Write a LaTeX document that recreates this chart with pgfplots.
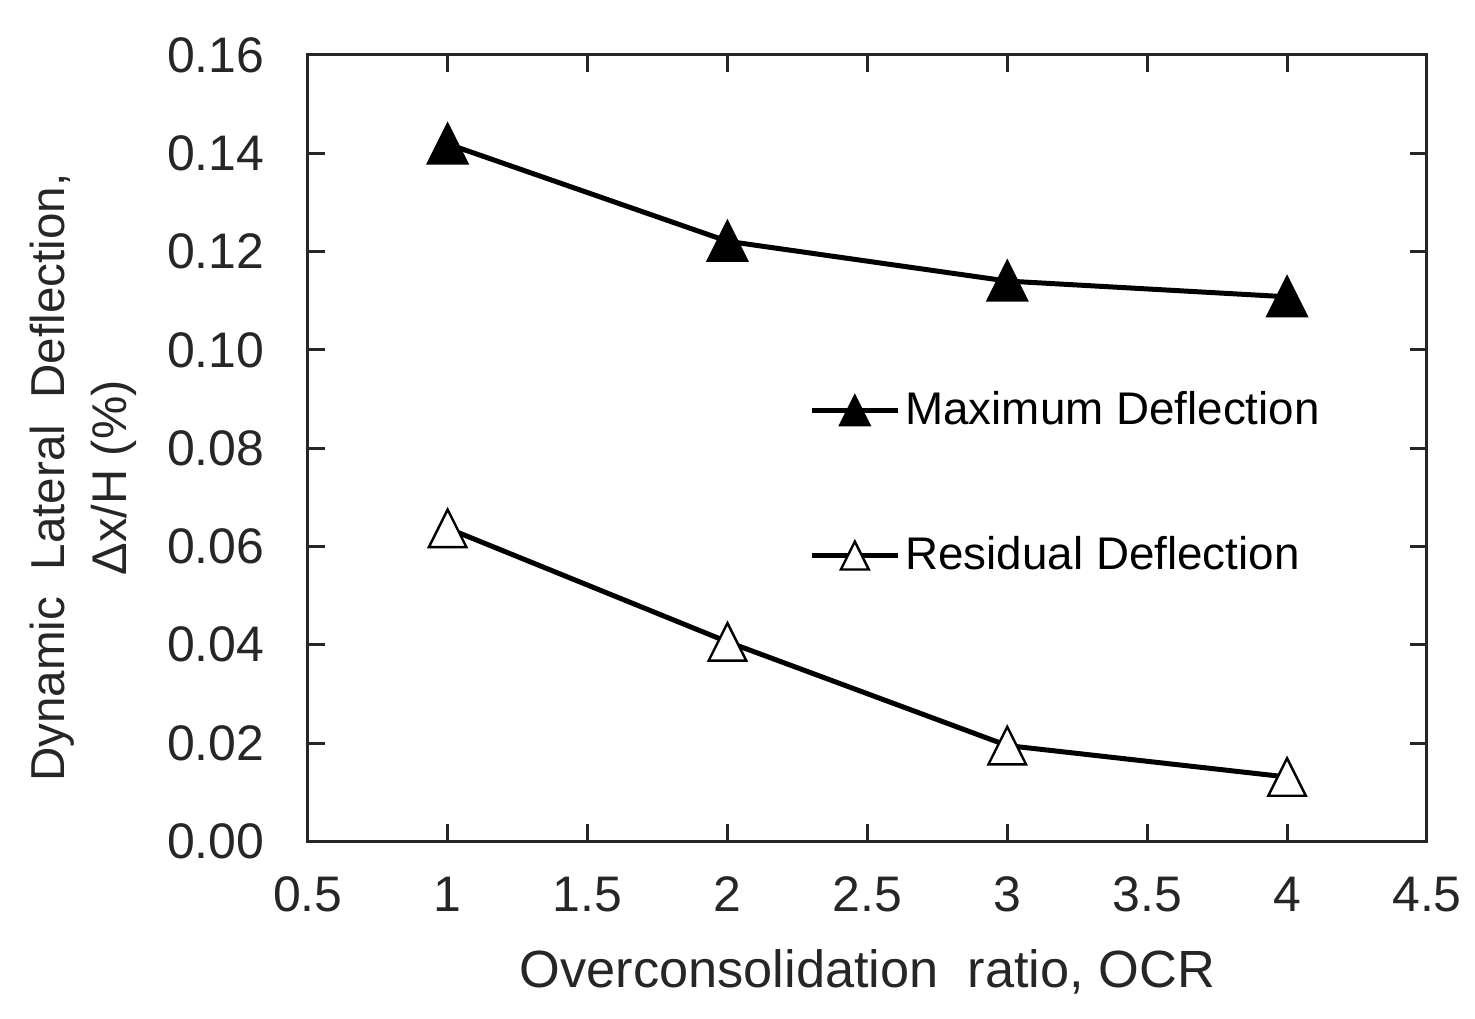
\documentclass[border=0pt]{standalone}
\usepackage{pgfplots}
\pgfplotsset{compat=1.18}
\usepackage{fontspec}
\setmainfont{Liberation Sans}

% triangle whose bounding box is centred on the data point
\pgfdeclareplotmark{tri}{%
  \pgfpathmoveto{\pgfqpoint{0pt}{\pgfplotmarksize}}%
  \pgfpathlineto{\pgfqpoint{-\pgfplotmarksize}{-\pgfplotmarksize}}%
  \pgfpathlineto{\pgfqpoint{\pgfplotmarksize}{-\pgfplotmarksize}}%
  \pgfpathclose
  \pgfusepathqfillstroke}

\begin{document}
\begin{tikzpicture}
\begin{axis}[
  scale only axis, width=280pt, height=196.75pt,
  clip=false,
  xmin=0.5, xmax=4.5, ymin=0, ymax=0.16,
  xtick={0.5,1,1.5,2,2.5,3,3.5,4,4.5},
  ytick={0,0.02,0.04,0.06,0.08,0.10,0.12,0.14,0.16},
  tick align=inside, major tick length=4.25pt,
  axis line style={line width=0.75pt, black!85},
  every tick/.style={line width=0.75pt, black!85},
  /pgf/number format/assume math mode=true,
  tick label style={font=\fontsize{12.5}{15}\selectfont, black!85},
  yticklabel style={/pgf/number format/fixed, /pgf/number format/fixed zerofill,
    /pgf/number format/precision=2, xshift=-7.3pt},
  xticklabel style={yshift=-5.3pt},
  legend style={at={(rel axis cs:0.448,0.4555)}, anchor=west, draw=none, fill=none,
    inner sep=0pt, outer sep=0pt, row sep=24pt,
    font=\fontsize{11.45}{14}\selectfont,
    nodes={inner sep=1.2pt}},
  legend cell align=left,
  legend image code/.code={
    \draw[#1, mark repeat=2, mark phase=2, mark size=3.5pt]
      plot coordinates {(0pt,0pt) (10.8pt,0pt) (21.6pt,0pt)};
  },
]
\addplot[black, line width=1.25pt, mark=tri, mark size=4.75pt,
  mark options={fill=black, line width=0.8pt}]
  coordinates {(1,0.1419) (2,0.1221) (3,0.1140) (4,0.1108)};
\addlegendentry{Maximum Deflection}
\addplot[black, line width=1.25pt, mark=tri, mark size=4.7pt,
  mark options={fill=white, line width=0.6pt}]
  coordinates {(1,0.0637) (2,0.0406) (3,0.0195) (4,0.0131)};
\addlegendentry{Residual Deflection}

% axis titles
\node[rotate=90, anchor=base, font=\fontsize{11.9}{15}\selectfont, black!85]
  at (rel axis cs:-0.217,0.4625) {Dynamic\ \ Lateral\ \ Deflection,};
\node[rotate=90, anchor=base, font=\fontsize{12.2}{15}\selectfont, black!85]
  at (rel axis cs:-0.1616,0.4625) {Δx/H (\%)};
\node[anchor=base, font=\fontsize{13.1}{15}\selectfont, black!85]
  at (rel axis cs:0.5,-0.1855) {Overconsolidation\ \ ratio, OCR};

% page size as in the reference
\path (rel axis cs:-0.275,-0.2249) rectangle (rel axis cs:1.042,1.0699);
\end{axis}
\end{tikzpicture}
\end{document}
